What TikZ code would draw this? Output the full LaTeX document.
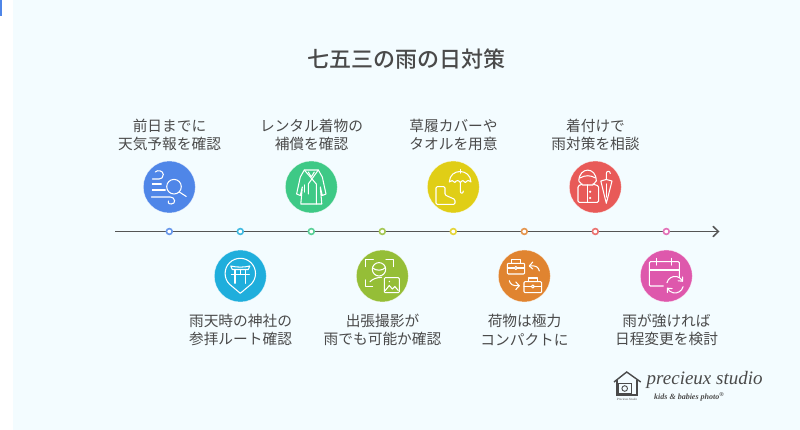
\documentclass[tikz,border=0pt]{standalone}
\usepackage{fontspec}
\setmainfont{Noto Sans CJK JP}
\newfontfamily\titlef{Noto Sans CJK JP Medium}
\newfontfamily\scriptf{Liberation Serif}
\usetikzlibrary{arrows.meta}
\definecolor{bgc}{HTML}{F3FCFF}
\definecolor{txt}{HTML}{4A4A4A}
\definecolor{axisc}{HTML}{555555}
\definecolor{cA}{HTML}{4F86E8}
\definecolor{cB}{HTML}{1FAEDC}
\definecolor{cC}{HTML}{3EC986}
\definecolor{cD}{HTML}{95BE37}
\definecolor{cE}{HTML}{E0CE16}
\definecolor{cF}{HTML}{E08430}
\definecolor{cG}{HTML}{E85A58}
\definecolor{cH}{HTML}{DE58AC}
\tikzset{
 x=1pt,y=-1pt,
 disc/.style={circle,minimum size=52pt,inner sep=0pt,fill=#1,draw=white,draw opacity=.6,line width=.5pt},
 tick/.style={circle,minimum size=5.8pt,inner sep=0pt,fill=white,draw=#1!85!white,line width=1.6pt},
 lab/.style={align=center,font=\fontsize{14.7}{18.3}\selectfont,text=txt,inner sep=0pt},
 ico/.style={draw=white,line width=1.05pt,line cap=round,line join=round,fill=none},
 logo/.style={draw=txt,line width=1.4pt,fill=none,line join=miter}
}
\begin{document}
\begin{tikzpicture}
\useasboundingbox (0,0) rectangle (800,430);
\fill[white] (0,0) rectangle (800,430);
\fill[bgc] (13,0) rectangle (800,430);
\fill[cA] (0,0) rectangle (2,16);
\node[font=\titlef\fontsize{22}{26}\selectfont,text=txt,inner sep=0pt] (title) at (406,59) {七五三の雨の日対策};
% axis
\coordinate (axL) at (115,231.5);
\coordinate (axR) at (719.5,231.5);
\draw[axisc,line width=1.6pt,-{Straight Barb[length=5.5pt,width=10.5pt,line width=1.5pt]}] (axL) -- (axR);
% ticks
\node[tick=cA] (t1) at (169.3,231.5) {};
\node[tick=cB] (t2) at (240.3,231.5) {};
\node[tick=cC] (t3) at (311.3,231.5) {};
\node[tick=cD] (t4) at (382.3,231.5) {};
\node[tick=cE] (t5) at (453.3,231.5) {};
\node[tick=cF] (t6) at (524.3,231.5) {};
\node[tick=cG] (t7) at (595.3,231.5) {};
\node[tick=cH] (t8) at (666.3,231.5) {};
% discs
\node[disc=cA] (d1) at (169.3,187) {};
\node[disc=cB] (d2) at (240.3,276) {};
\node[disc=cC] (d3) at (311.3,187) {};
\node[disc=cD] (d4) at (382.3,276) {};
\node[disc=cE] (d5) at (453.3,187) {};
\node[disc=cF] (d6) at (524.3,276) {};
\node[disc=cG] (d7) at (595.3,187) {};
\node[disc=cH] (d8) at (666.3,276) {};
% labels
\node[lab] (l1) at (169.5,135) {前日までに\\天気予報を確認};
\node[lab] (l2) at (240.5,330) {雨天時の神社の\\参拝ルート確認};
\node[lab] (l3) at (311.5,135) {レンタル着物の\\補償を確認};
\node[lab] (l4) at (382.5,330) {出張撮影が\\雨でも可能か確認};
\node[lab] (l5) at (453.5,135) {草履カバーや\\タオルを用意};
\node[lab] (l6) at (524.5,330) {荷物は極力\\コンパクトに};
\node[lab] (l7) at (595.5,135) {着付けで\\雨対策を相談};
\node[lab] (l8) at (666.5,330) {雨が強ければ\\日程変更を検討};
% icon 1: wind + magnifier
\begin{scope}[shift={(169.3,187)}]
\draw[ico] (4.7,-0.3) circle (7.3);
\draw[ico] (10,5) -- (17,9.5);
\draw[ico] (-14,-15) .. controls (-12,-17.5) and (-6,-16.5) .. (-6,-12.5) .. controls (-6,-9.5) and (-8,-8) .. (-10,-8) -- (-17,-8);
\draw[ico] (-17,-3) -- (-8,-3);
\draw[ico] (-17,3) -- (-4,3);
\draw[ico] (-18,10) -- (1,10) .. controls (6,10) and (7,17) .. (2,17) .. controls (-1,17) and (-2,15) .. (-1,14);
\end{scope}
% icon 2: torii pin
\begin{scope}[shift={(240.3,276)}]
\draw[ico] (10.75,8.25) arc (45:-225:15.2) -- (0,17.3) -- cycle;
\draw[ico] (-9.5,-10) .. controls (-4,-8.5) and (4,-8.5) .. (9.5,-10) -- (8,-6.5) -- (-8,-6.5) -- cycle;
\draw[ico] (-9,-1.5) -- (9,-1.5);
\draw[ico] (-5.3,-6.5) -- (-5.3,7.3);
\draw[ico] (5.3,-6.5) -- (5.3,7.3);
\draw[ico] (0,-6.5) -- (0,-1.5);
\end{scope}
% icon 3: kimono
\begin{scope}[shift={(311.3,187)}]
\draw[ico] (-7,-17) -- (7,-17) -- (11,-10) -- (14.7,7) -- (11,8.5) -- (9,0) -- (10.5,17) -- (-10.5,17) -- (-9,0) -- (-11,8.5) -- (-14.7,7) -- (-11,-10) -- cycle;
\draw[ico] (-7,-17) -- (5,-3) -- (5,17);
\draw[ico] (7,-17) -- (-3,-3) -- (-3,7);
\draw[ico] (-3,-15) -- (0,-10) -- (3,-15);
\draw[ico] (-7,-2) -- (-7,5);
\end{scope}
% icon 4: face frame + picture
\begin{scope}[shift={(382.3,276)}]
\draw[ico] (-16.7,-9.3) -- (-16.7,-16.7) -- (-9,-16.7);
\draw[ico] (3.7,-16.7) -- (11,-16.7) -- (11,-9.3);
\draw[ico] (-16.7,4) -- (-16.7,10.7) -- (-9.7,10.7);
\draw[ico] (-3.3,-6.7) circle (6.7);
\draw[ico] (-9.8,-8) .. controls (-6,-5) and (0,-5) .. (3.2,-8.5);
\draw[ico] (-12.3,5.7) .. controls (-10,3) and (-5,1.3) .. (-0.7,1.3);
\draw[ico,rounded corners=1pt] (2,1.7) rectangle (17,16.7);
\draw[ico] (3,14.5) -- (7,9.5) -- (10,13) -- (12.5,10.5) -- (16,14.5);
\fill[white] (7,5.5) circle (.8);
\end{scope}
% icon 5: boot + umbrella
\begin{scope}[shift={(453.3,187)}]
\draw[ico] (-4,-5) .. controls (-3.5,-19) and (17,-19) .. (17.7,-5) .. controls (15,-7) and (13.5,-7) .. (12,-4.5) .. controls (10.5,-7) and (9,-7) .. (7,-4.5) .. controls (5.5,-7) and (3,-7) .. (1.5,-4.5) .. controls (0,-7) and (-2,-7) .. (-4,-5);
\draw[ico] (7,-17.5) -- (7,-14);
\draw[ico] (7,-4.5) -- (7,4) .. controls (7,7) and (10,7) .. (10,4);
\draw[ico,rounded corners=1.2pt] (-17.3,-0.3) -- (-8.3,-0.3) -- (-8.3,8) -- (1.7,12.5) -- (1.7,17.3) -- (-17.3,17.3) -- cycle;
\end{scope}
% icon 6: briefcases
\begin{scope}[shift={(524.3,276)}]
\draw[ico,rounded corners=1pt] (-17,-12.7) rectangle (0.3,-2);
\draw[ico] (-12.5,-12.7) -- (-12.5,-16.7) -- (-4.2,-16.7) -- (-4.2,-12.7);
\draw[ico] (-17,-8) -- (-10,-8) (-7,-8) -- (0.3,-8);
\draw[ico] (-8.5,-8) circle (1.5);
\draw[ico,rounded corners=1pt] (-0.3,5.7) rectangle (17.3,16.7);
\draw[ico] (4,5.7) -- (4,2) -- (13,2) -- (13,5.7);
\draw[ico] (-0.3,10.5) -- (7,10.5) (10,10.5) -- (17.3,10.5);
\draw[ico] (8.5,10.5) circle (1.5);
\draw[ico] (15,-5) .. controls (14.5,-9) and (11,-11) .. (5,-10);
\draw[ico] (8.5,-14) -- (5,-10) -- (8.5,-7);
\draw[ico] (-15,4.7) .. controls (-14.5,8) and (-11,10.5) .. (-5,9.7);
\draw[ico] (-8.5,6) -- (-5,9.7) -- (-8.5,13.5);
\end{scope}
% icon 7: raincoat + umbrella
\begin{scope}[shift={(595.3,187)}]
\draw[ico] (-16.5,-6) .. controls (-16,-20.5) and (1,-20.5) .. (1,-6) -- (-2.5,-2) -- (-13,-2) -- cycle;
\draw[ico] (-15.5,-9) .. controls (-10,-12) and (-5,-12) .. (0.3,-9);
\draw[ico,rounded corners=1.2pt] (-13,-3) -- (-17.3,-1) -- (-17.3,15.3) -- (3.3,15.3) -- (3.3,-1) -- (-2.5,-3);
\draw[ico] (-8,-2) -- (-8,15.3);
\fill[white] (-5.2,4.7) circle (1.2) (-5.2,11) circle (1.2);
\draw[ico] (11,-7.5) -- (5.5,-6) -- (11,16.3) -- (16.7,-6) -- cycle;
\draw[ico] (11,-7.5) -- (11,-13.5) .. controls (11,-16.5) and (15,-16.5) .. (15,-13.5);
\draw[ico] (11,-3) -- (11,10);
\end{scope}
% icon 8: calendar + refresh
\begin{scope}[shift={(666.3,276)}]
\draw[ico,rounded corners=1pt] (-3,10) -- (-17,10) -- (-17,-14.3) -- (13,-14.3) -- (13,1.5);
\draw[ico] (-17,-6) -- (13,-6);
\draw[ico] (-9.7,-17.7) -- (-9.7,-11);
\draw[ico] (5.3,-17.7) -- (5.3,-11);
\draw[ico] (0.65,6.7) arc (194:335:8.3);
\draw[ico] (16.75,10.7) arc (14:155:8.3);
\draw[ico] (16.4,1) -- (16.2,5.2) -- (11.8,4.8);
\draw[ico] (1,16.5) -- (1.2,12.2) -- (5.8,12.6);
\end{scope}
% logo
\begin{scope}
\draw[logo] (614,382) -- (626.7,372) -- (640.7,382);
\draw[logo,line width=1.2pt] (617,380) -- (617,395) -- (637,395) -- (637,380);
\draw[logo,line width=1pt,fill=bgc] (618.5,383.5) rectangle (631,393.5);
\draw[logo,line width=.9pt] (624.7,388.5) circle (2.8);
\node[font=\scriptf\itshape\fontsize{3.2}{3.2}\selectfont,text=txt,inner sep=0pt] (logosmall) at (627,399) {Precieux Studio};
\node[font=\scriptf\itshape\fontsize{19}{21}\selectfont,text=txt,inner sep=0pt,anchor=west] (logotext) at (646.5,379.5) {precieux studio};
\node[font=\scriptf\itshape\bfseries\fontsize{8}{9}\selectfont,text=txt,inner sep=0pt,anchor=west] (logosub) at (654,397) {kids \& babies photo\textsuperscript{®}};
\end{scope}
\end{tikzpicture}
\end{document}
